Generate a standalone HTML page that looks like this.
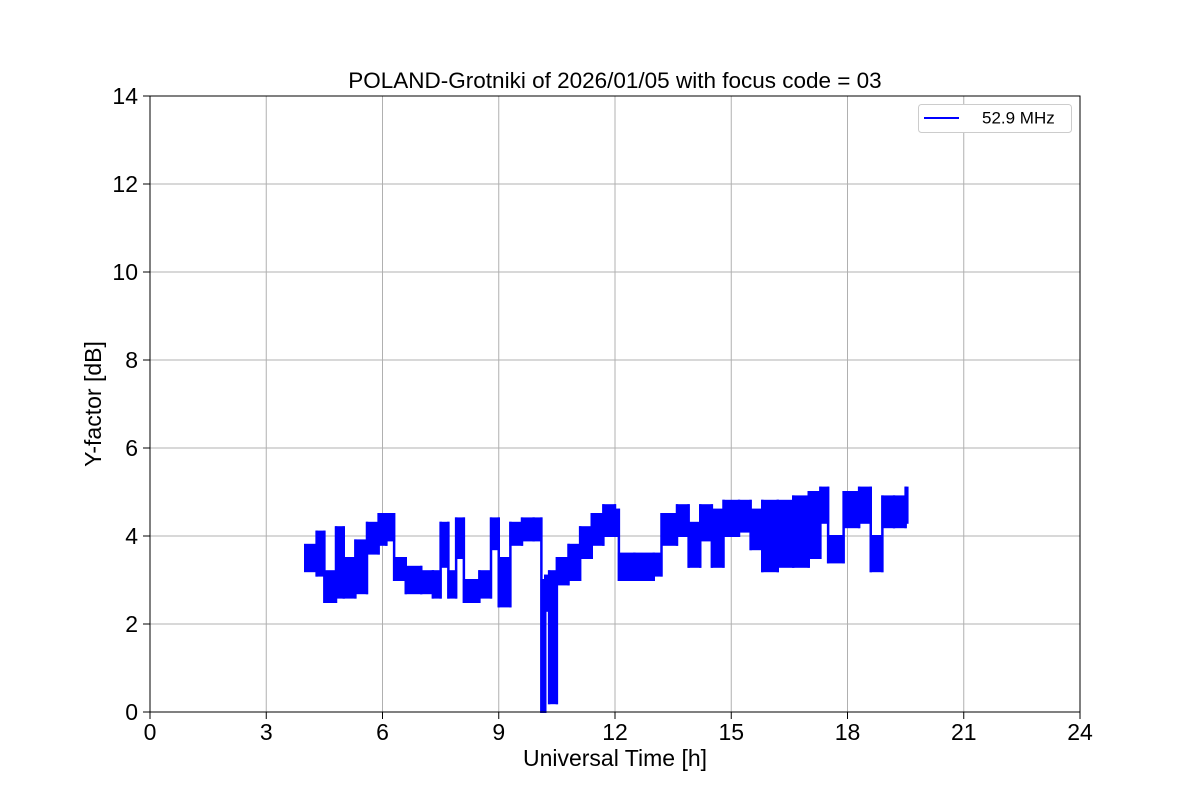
<!DOCTYPE html>
<html><head><meta charset="utf-8"><style>
body{margin:0;background:#fff;}
svg text{font-family:"Liberation Sans","DejaVu Sans",sans-serif;fill:#000;}
</style></head><body>
<svg id="chart" width="1200" height="800">
<rect width="1200" height="800" fill="#fff"/>
<g id="grid"></g>
<g id="series"></g>
<rect x="150" y="96" width="930" height="616" fill="none" stroke="#000" stroke-width="1"/>
<g id="ticks"></g>
<text x="615" y="88" font-size="22.5" text-anchor="middle">POLAND-Grotniki of 2026/01/05 with focus code = 03</text>
<text x="615" y="766" font-size="23" text-anchor="middle">Universal Time [h]</text>
<text x="101" y="404" font-size="23" text-anchor="middle" transform="rotate(-90 101 404)">Y-factor [dB]</text>
<g>
<rect x="918.5" y="104.5" width="153" height="28" rx="3" fill="#fff" stroke="#ccc"/>
<line x1="924" y1="118" x2="959" y2="118" stroke="#0000ff" stroke-width="2"/>
<text x="982" y="123.5" font-size="17">52.9 MHz</text>
</g>
</svg>
<script>
const times=[4.0,4.3,4.5,4.8,5.0,5.3,5.6,5.9,6.1,6.3,6.6,7.0,7.3,7.5,7.7,7.9,8.1,8.5,8.8,9.0,9.3,9.6,9.9,10.1,10.2,10.3,10.5,10.8,11.1,11.4,11.7,12.0,12.1,12.5,13.0,13.2,13.6,13.9,14.2,14.5,14.8,15.2,15.5,15.8,16.2,16.6,17.0,17.3,17.5,17.9,18.3,18.6,18.9,19.2,19.5];
const lowVals=[3.2,3.1,2.5,2.6,2.6,2.7,3.6,3.8,3.9,3.0,2.7,2.7,2.6,3.3,2.6,3.5,2.5,2.6,3.7,2.4,3.8,3.9,3.9,0.0,2.3,0.2,2.9,3.0,3.5,3.8,4.0,4.0,3.0,3.0,3.1,3.8,4.0,3.3,3.9,3.3,4.0,4.1,3.7,3.2,3.3,3.3,3.5,4.3,3.4,4.2,4.3,3.2,4.2,4.2,4.3];
const highVals=[3.8,4.1,3.2,4.2,3.5,3.9,4.3,4.5,4.5,3.5,3.3,3.2,3.2,4.3,3.2,4.4,3.0,3.2,4.4,3.5,4.3,4.4,4.4,3.0,3.1,3.2,3.5,3.8,4.2,4.5,4.7,4.6,3.6,3.6,3.6,4.5,4.7,4.3,4.7,4.6,4.8,4.8,4.6,4.8,4.8,4.9,5.0,5.1,4.0,5.0,5.1,4.0,4.9,4.9,5.1];
const xTicks=[0,3,6,9,12,15,18,21,24];
const yTicks=[0,2,4,6,8,10,12,14];
const NS="http://www.w3.org/2000/svg";
const X=t=>150+t*930/24, Y=v=>712-v*616/14;
function mk(tag,attrs,parent){const e=document.createElementNS(NS,tag);for(const k in attrs)e.setAttribute(k,attrs[k]);parent.appendChild(e);return e;}
const grid=document.getElementById('grid'),ticks=document.getElementById('ticks'),series=document.getElementById('series');
xTicks.forEach(t=>{
 const gl=mk('line',{x1:X(t),x2:X(t),y1:96,y2:712,stroke:'#b0b0b0','stroke-width':1},grid);
 
 
 const tk=mk('line',{x1:X(t),x2:X(t),y1:712,y2:719,stroke:'#000'},ticks);
 
 
 const tl=mk('text',{x:X(t),y:740,'font-size':23,'text-anchor':'middle'},ticks);tl.textContent=t;
 
 
});
yTicks.forEach(v=>{
 const gl=mk('line',{x1:150,x2:1080,y1:Y(v),y2:Y(v),stroke:'#b0b0b0','stroke-width':1},grid);
 
 
 const tk=mk('line',{x1:143,x2:150,y1:Y(v),y2:Y(v),stroke:'#000'},ticks);
 
 
 const tl=mk('text',{x:138,y:Y(v)+8,'font-size':23,'text-anchor':'end'},ticks);tl.textContent=v;
 
 
});
const n=times.length;
const tEnd=i=>i<n-1?times[i+1]:times[i]+0.05;
for(let i=0;i<n;i++){
 const r=mk('rect',{x:X(times[i])-1,y:Y(highVals[i])-1,width:X(tEnd(i))-X(times[i])+2,height:Y(lowVals[i])-Y(highVals[i])+2,fill:'#0000ff'},series);
 
 
 if(i<n-1){
  const lo=Math.min(lowVals[i],lowVals[i+1]),hi=Math.max(highVals[i],highVals[i+1]);
  const c=mk('line',{x1:X(times[i+1]),x2:X(times[i+1]),y1:Y(lo)+1,y2:Y(hi)-1,stroke:'#0000ff','stroke-width':2.5},series);
  
  
 }
}
</script>
</body></html>
